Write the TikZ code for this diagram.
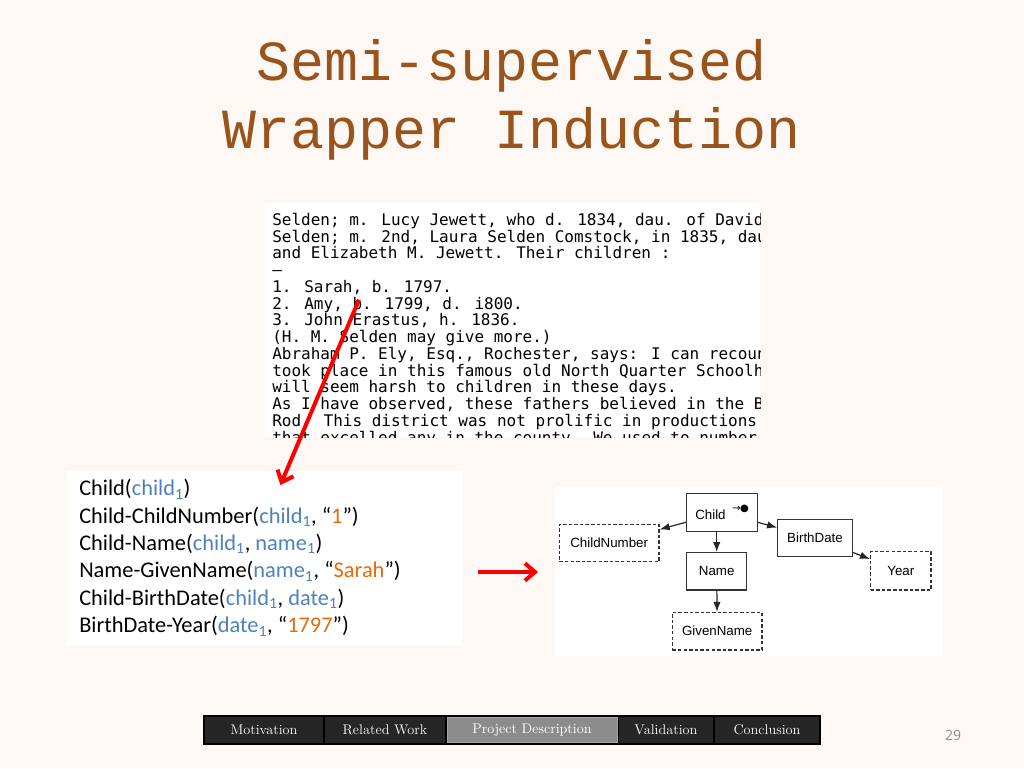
\documentclass[tikz,border=0pt]{standalone}
\usepackage{fontspec}
\usetikzlibrary{arrows.meta}
\newfontfamily\titlefont{Liberation Mono}
\newfontfamily\scanfont{DejaVu Sans Mono}
\newfontfamily\calfont{Carlito}
\newfontfamily\arialfont{Liberation Sans}
\newfontfamily\symfont{DejaVu Sans}
\newfontfamily\numfont{Open Sans}
\definecolor{bg}{HTML}{FDF8F3}
\definecolor{titlebrown}{HTML}{98541C}
\definecolor{argblue}{HTML}{4F81BD}
\definecolor{argorange}{HTML}{E46C0A}
\definecolor{navdark}{HTML}{262626}
\definecolor{navgrey}{HTML}{8C8C8C}
\newcommand{\av}[1]{\textcolor{argblue}{#1\textsubscript{1}}}
\newcommand{\lit}[1]{“\textcolor{argorange}{#1}”}
\tikzset{
  box/.style={draw=black!80, line width=1pt, fill=white, inner sep=0pt,
    minimum height=28pt, font=\arialfont\fontsize{10}{12}\selectfont},
  dbox/.style={box, dash pattern=on 2.6pt off 1.6pt},
  link/.style={-{Latex[length=7.5pt,width=5.5pt]}, draw=black!85, line width=0.9pt},
  redarrow/.style={-{Straight Barb[length=7.5pt,width=13pt]}, draw=red, line width=3pt},
  scanline/.style={anchor=base west, inner sep=0pt, font=\scanfont\fontsize{12}{14}\selectfont},
  argline/.style={anchor=base west, inner sep=0pt, font=\calfont\fontsize{16.8}{20}\selectfont},
  navbox/.style={fill=navdark, text=white!95!black, inner sep=0pt, minimum height=19pt,
    font=\fontsize{10.5}{12}\selectfont},
}
\begin{document}
\begin{tikzpicture}[x=0.75pt,y=-0.75pt]
  \useasboundingbox (0,0) rectangle (1024,768);
  \fill [bg] (0,0) rectangle (1024,768);
  % title
  \node [anchor=base, text=titlebrown, font=\titlefont\fontsize{42.5}{50}\selectfont] (title1) at (512,80) {Semi-supervised};
  \node [anchor=base, text=titlebrown, font=\titlefont\fontsize{42.5}{50}\selectfont] (title2) at (512,148) {Wrapper Induction};
  % scanned page
  \begin{scope}
    \clip (265,203) rectangle (760,437);
    \fill [white] (265,203) rectangle (760,437);
    \node [scanline] (s1) at (272,225.3) {Selden; m. Lucy Jewett, who d. 1834, dau. of David};
    \node [scanline] (s2) at (272,242.05) {Selden; m. 2nd, Laura Selden Comstock, in 1835, dau};
    \node [scanline] (s3) at (272,258.8) {and Elizabeth M. Jewett. Their children :};
    \node [scanline] (s4) at (272,275.55) {–};
    \node [scanline] (s5) at (272,292.3) {1. Sarah, b. 1797.};
    \node [scanline] (s6) at (272,309.05) {2. Amy, b. 1799, d. i800.};
    \node [scanline] (s7) at (272,325.8) {3. John Erastus, h. 1836.};
    \node [scanline] (s8) at (272,342.55) {(H. M. Selden may give more.)};
    \node [scanline] (s9) at (272,359.3) {Abraham P. Ely, Esq., Rochester, says: I can recount};
    \node [scanline] (s10) at (272,376.05) {took place in this famous old North Quarter Schoolhouse};
    \node [scanline] (s11) at (272,392.8) {will seem harsh to children in these days.};
    \node [scanline] (s12) at (272,409.55) {As I have observed, these fathers believed in the Birch};
    \node [scanline] (s13) at (272,426.3) {Rod. This district was not prolific in productions};
    \node [scanline] (s14) at (272,443.05) {that excelled any in the county. We used to number};
  \end{scope}
  % relations
  \fill [white] (67,471) rectangle (462,645);
  \node [argline] (r1) at (79,495.7) {Child(\av{child})};
  \node [argline] (r2) at (79,523.1) {Child-ChildNumber(\av{child}, \lit{1})};
  \node [argline] (r3) at (79,550.5) {Child-Name(\av{child}, \av{name})};
  \node [argline] (r4) at (79,577.9) {Name-GivenName(\av{name}, \lit{Sarah})};
  \node [argline] (r5) at (79,605.3) {Child-BirthDate(\av{child}, \av{date})};
  \node [argline] (r6) at (79,632.7) {BirthDate-Year(\av{date}, \lit{1797})};
  % schema
  \fill [white] (555,486) rectangle (942,656);
  \node [box, minimum width=53pt, minimum height=28.8pt] (child) at (722,512.5)
    {Child\hspace{5pt}\raisebox{5.5pt}{\symfont\fontsize{7.5}{8}\selectfont →\kern-0.5pt●}};
  \node [dbox, minimum width=74.8pt] (cnum) at (609.2,543) {ChildNumber};
  \node [box, minimum width=56pt] (bdate) at (815,538) {BirthDate};
  \node [box, minimum width=45pt] (name) at (716.7,571.4) {Name};
  \node [dbox, minimum width=45.2pt, minimum height=28.7pt] (year) at (900.8,570.8) {Year};
  \node [dbox, minimum width=67.3pt] (gname) at (717.2,631.2) {GivenName};
  \draw [link] (child) -- (cnum);
  \draw [link] (child.south -| name.north) -- (name.north);
  \draw [link] (child) -- (bdate);
  \draw [link] (bdate) -- (year);
  \draw [link] (name) -- (gname);
  % red arrows
  \coordinate (a1) at (359,299.7);
  \coordinate (a2) at (280.4,485);
  \coordinate (b1) at (478,572);
  \coordinate (b2) at (538,572);
  \draw [redarrow] (a1) -- (a2);
  \draw [redarrow] (b1) -- (b2);
  % navigation bar
  \fill [black] (203,715) rectangle (821,745);
  \node [navbox, minimum width=88.5pt] (mot) at (264,730) {Motivation};
  \node [navbox, minimum width=90pt] (rel) at (385,730) {Related Work};
  \node [navbox, fill=navgrey, draw=black!35, text=white, minimum width=127.5pt] (proj) at (532,730) {Project Description};
  \node [navbox, minimum width=70.5pt] (val) at (666,730) {Validation};
  \node [navbox, minimum width=78pt] (con) at (767,730) {Conclusion};
  \node [text=navgrey, font=\numfont\fontsize{10.5}{12}\selectfont] (page) at (953,735) {29};
\end{tikzpicture}
\end{document}
